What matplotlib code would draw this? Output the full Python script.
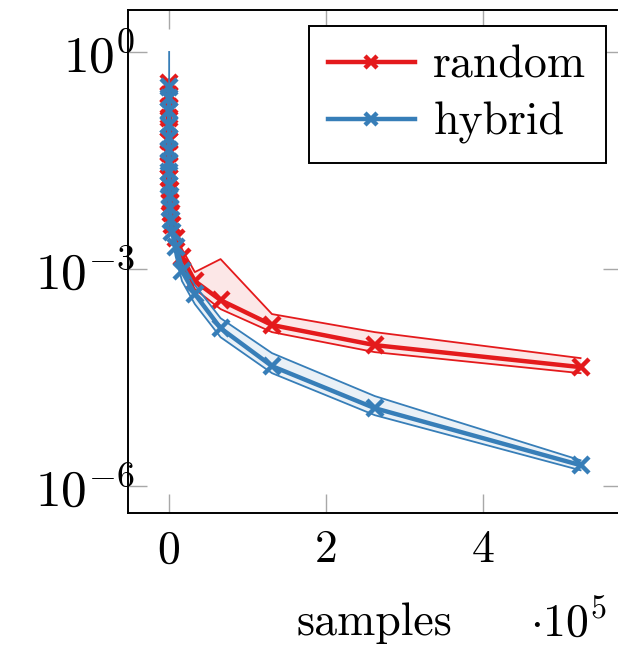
import numpy as np
import matplotlib
matplotlib.use("Agg")
import matplotlib.pyplot as plt
from matplotlib.ticker import FixedLocator, FuncFormatter, NullLocator

plt.rcParams["font.family"] = "serif"
plt.rcParams["font.serif"] = ["cmr10"]
plt.rcParams["mathtext.fontset"] = "cm"
plt.rcParams["axes.unicode_minus"] = False

# number of samples (powers of two)
samples = [2 ** k for k in range(20)]

# random sampling: mean error and spread
random_mean = [3.73e-1, 2.54e-1, 1.74e-1, 1.22e-1, 8.89e-2, 5.87e-2, 4.01e-2, 2.74e-2,
               1.81e-2, 1.23e-2, 8.42e-3, 5.93e-3, 4.05e-3, 2.68e-3, 1.46e-3, 6.80e-4,
               3.71e-4, 1.68e-4, 8.86e-5, 4.40e-5]
random_upper = [4.23e-1, 2.89e-1, 1.97e-1, 1.39e-1, 1.01e-1, 6.67e-2, 4.55e-2, 3.11e-2,
                2.06e-2, 1.40e-2, 9.56e-3, 6.74e-3, 4.60e-3, 3.45e-3, 1.89e-3, 9.06e-4,
                1.37e-3, 2.38e-4, 1.34e-4, 5.86e-5]
random_lower = [3.28e-1, 2.24e-1, 1.53e-1, 1.08e-1, 7.82e-2, 5.17e-2, 3.53e-2, 2.41e-2,
                1.59e-2, 1.09e-2, 7.41e-3, 5.22e-3, 3.56e-3, 2.21e-3, 1.17e-3, 5.27e-4,
                2.79e-4, 1.34e-4, 7.09e-5, 3.63e-5]

# hybrid sampling: mean error and spread
hybrid_mean = [3.28e-1, 2.31e-1, 1.53e-1, 9.78e-2, 6.46e-2, 4.41e-2, 3.01e-2, 2.19e-2,
               1.45e-2, 1.02e-2, 6.96e-3, 4.75e-3, 3.24e-3, 2.01e-3, 9.35e-4, 4.50e-4,
               1.52e-4, 4.54e-5, 1.19e-5, 1.94e-6]
hybrid_upper = [1.0, 2.80e-1, 1.85e-1, 1.18e-1, 7.82e-2, 5.34e-2, 3.64e-2, 2.65e-2,
                1.75e-2, 1.23e-2, 8.42e-3, 5.74e-3, 3.92e-3, 2.51e-3, 1.21e-3, 5.99e-4,
                2.09e-4, 6.87e-5, 1.75e-5, 2.27e-6]
hybrid_lower = [2.71e-1, 1.91e-1, 1.26e-1, 8.08e-2, 5.34e-2, 3.64e-2, 2.49e-2, 1.81e-2,
                1.20e-2, 8.42e-3, 5.74e-3, 3.92e-3, 2.68e-3, 1.51e-3, 6.80e-4, 3.27e-4,
                1.14e-4, 3.63e-5, 9.53e-6, 1.65e-6]

RED = "#e41a1c"
BLUE = "#377eb8"
FS = 33

fig = plt.figure(figsize=(6.18, 6.46), dpi=100)
ax = fig.add_axes([128 / 618, 133 / 646, (621.7 - 128) / 618, (513 - 10) / 646])

series = [
    ("random", random_mean, random_upper, random_lower, RED),
    ("hybrid", hybrid_mean, hybrid_upper, hybrid_lower, BLUE),
]
for name, mean, upper, lower, color in series:
    ax.fill_between(samples, lower, upper, color=color, alpha=0.1, linewidth=0)
    ax.plot(samples, upper, color=color, lw=1.3)
    ax.plot(samples, lower, color=color, lw=1.3)
    ax.plot(samples, mean, color=color, lw=3.2, marker="x", markersize=11,
            markeredgewidth=3.2, label=name)

ax.set_yscale("log")
xmax = max(samples)
ax.set_xlim(-0.1 * xmax, 1.1 * xmax)
ax.set_ylim(10 ** -6.373, 10 ** 0.58)

ax.xaxis.set_major_locator(FixedLocator([0, 2e5, 4e5]))
ax.xaxis.set_major_formatter(FuncFormatter(lambda v, p: f"{v / 1e5:.0f}"))
ax.yaxis.set_major_locator(FixedLocator([1e0, 1e-3, 1e-6]))
ax.yaxis.set_major_formatter(FuncFormatter(lambda v, p: f"$10^{{{int(round(np.log10(v)))}}}$"))
ax.yaxis.set_minor_locator(NullLocator())

ax.tick_params(axis="both", which="major", direction="in", length=14, width=1.0,
               color="#a8a8a8", labelsize=FS, top=True, right=True)
ax.tick_params(axis="x", pad=12)
ax.tick_params(axis="y", pad=-5, labelsize=37)
for s in ax.spines.values():
    s.set_linewidth(1.4)
    s.set_color("black")

ax.set_xlabel("samples", fontsize=FS, labelpad=22)
fig.text(530 / 618, 9 / 646, r"$\cdot 10^{5}$", fontsize=FS, va="baseline", ha="left")

leg = ax.legend(loc="upper right", fontsize=FS, frameon=True, fancybox=False,
                edgecolor="black", framealpha=1, handlelength=1.9, borderaxespad=0.35,
                borderpad=0.42, labelspacing=0.33, handletextpad=0.4, markerscale=0.85)
leg.get_frame().set_linewidth(1.4)

fig.savefig("out.png", dpi=100)
